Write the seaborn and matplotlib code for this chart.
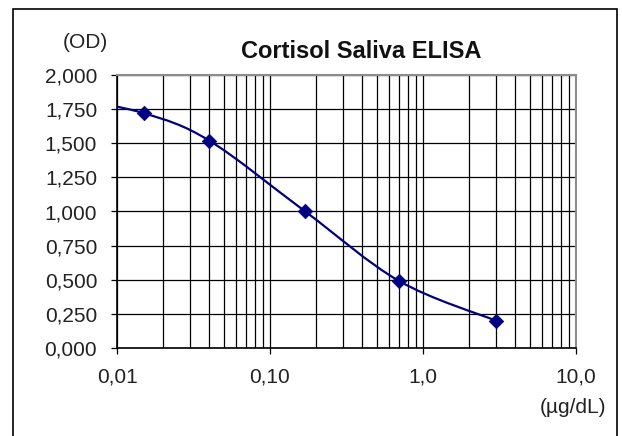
import numpy as np
import matplotlib
matplotlib.use("Agg")
import matplotlib.pyplot as plt
import seaborn as sns
from matplotlib.path import Path
from matplotlib.patches import PathPatch, Rectangle
from matplotlib.ticker import FixedLocator, FixedFormatter, LogLocator, NullFormatter

# standards: concentration (µg/dL) vs OD
conc = [0.015, 0.04, 0.17, 0.7, 3.0]
od = [1.72, 1.52, 1.00, 0.49, 0.20]
# the fitted line comes in from the left edge (point below the axis range, not marked)
lead_conc = 0.005
lead_od = 1.83

y_ticks = [0.0, 0.25, 0.5, 0.75, 1.0, 1.25, 1.5, 1.75, 2.0]
y_tick_labels = ["0,000", "0,250", "0,500", "0,750", "1,000", "1,250", "1,500", "1,750", "2,000"]
x_ticks = [0.01, 0.1, 1.0, 10.0]
x_tick_labels = ["0,01", "0,10", "1,0", "10,0"]

sns.set_style("white")
plt.rcParams["font.family"] = ["Liberation Sans", "DejaVu Sans"]

W, H = 622, 436
fig = plt.figure(figsize=(W / 100, H / 100), dpi=100)
ax = fig.add_axes([117 / W, 1 - 348 / H, (576 - 117) / W, (348 - 75) / H])

ax.set_xscale("log")
ax.set_xlim(0.01, 10)
ax.set_ylim(0, 2)

# smoothed line (Excel-style Catmull-Rom bezier in log-x space)
lx = np.log10([lead_conc] + conc)
ly = np.array([lead_od] + od)
pts = np.column_stack([lx, ly])
verts = [pts[0]]
codes = [Path.MOVETO]
n = len(pts)
for i in range(n - 1):
    p0 = pts[max(i - 1, 0)]
    p1 = pts[i]
    p2 = pts[i + 1]
    p3 = pts[min(i + 2, n - 1)]
    c1 = p1 + (p2 - p0) / 6
    c2 = p2 - (p3 - p1) / 6
    verts += [c1, c2, p2]
    codes += [Path.CURVE4] * 3
verts = np.array(verts)
verts[:, 0] = 10 ** verts[:, 0]
ax.add_patch(PathPatch(Path(verts, codes), fill=False, edgecolor="#000080", lw=1.6, zorder=3))

sns.scatterplot(x=conc, y=od, marker="D", s=55, color="#000080", edgecolor="#000080",
                linewidth=0.5, zorder=4, ax=ax)

ax.set_axisbelow(True)
ax.xaxis.set_major_locator(FixedLocator(x_ticks))
ax.xaxis.set_major_formatter(FixedFormatter(x_tick_labels))
ax.xaxis.set_minor_locator(LogLocator(base=10, subs=np.arange(2, 10)))
ax.xaxis.set_minor_formatter(NullFormatter())
ax.yaxis.set_major_locator(FixedLocator(y_ticks))
ax.yaxis.set_major_formatter(FixedFormatter(y_tick_labels))

ax.grid(which="both", axis="x", color="black", lw=0.9)
ax.grid(which="major", axis="y", color="black", lw=0.9)
ax.tick_params(which="major", direction="out", length=4.3, width=0.9, color="black",
               pad=10, labelsize=15, labelcolor="#222222", left=True, bottom=True)
ax.tick_params(which="minor", length=0)

for s in ["top", "right"]:
    ax.spines[s].set_color("#8c8c8c")
    ax.spines[s].set_linewidth(1.5)
for s in ["left", "bottom"]:
    ax.spines[s].set_color("black")
    ax.spines[s].set_linewidth(1.2)

fig.add_artist(Rectangle((13 / W, -0.05), (617 - 13) / W, (1 - 9 / H) + 0.05,
                         transform=fig.transFigure, fill=False, ec="black", lw=1.2, clip_on=False))

fig.text(361 / W, 1 - 58 / H, "Cortisol Saliva ELISA", ha="center", va="baseline",
         fontsize=17, fontweight="bold", color="#111111")
fig.text(85 / W, 1 - 42 / H, "(OD)", ha="center", va="center", fontsize=15, color="#222222")
fig.text(573 / W, 1 - 407 / H, "(µg/dL)", ha="center", va="center", fontsize=15, color="#222222")

fig.savefig("out.png", dpi=100)
